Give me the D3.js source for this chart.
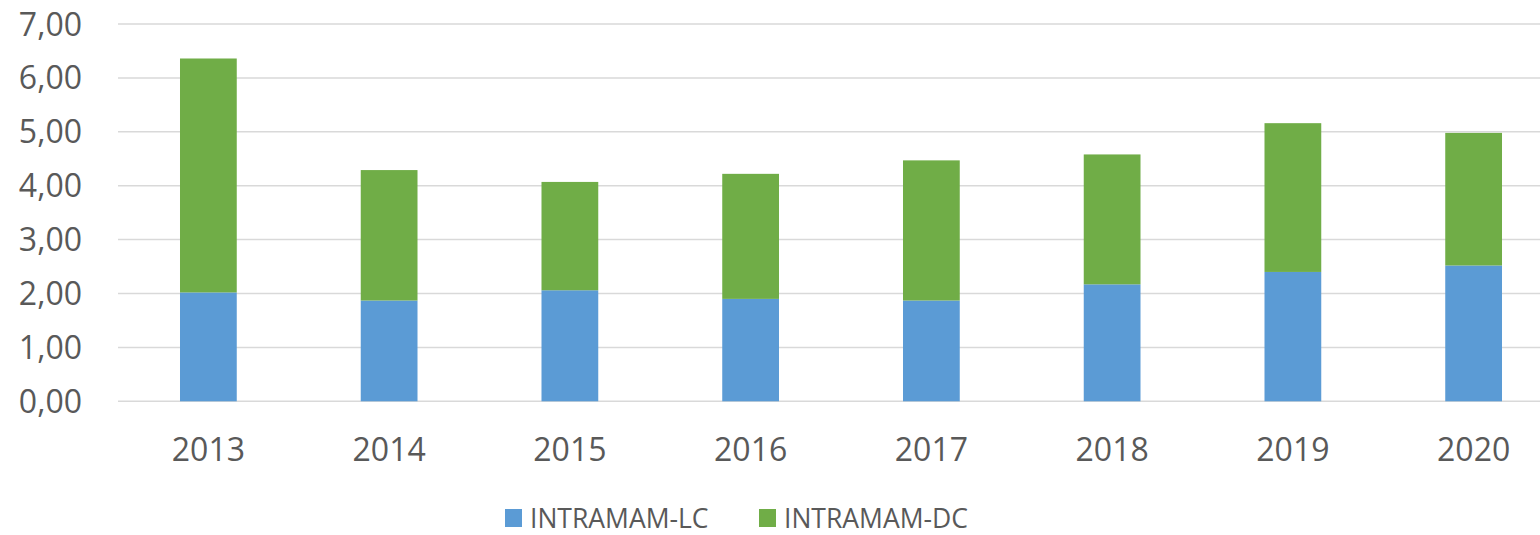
<!DOCTYPE html>
<html>
    <head>
        <meta charset="utf-8">
        <style>
            html, body {
                margin: 0px;
                padding: 0px;
                background-color: #fff;
                overflow: hidden;
            }

            svg text {
                font-family: "Open Sans", sans-serif;
                fill: #595959;
            }

            .grid line {
                stroke: #d9d9d9;
                stroke-width: 1.5;
            }
        </style>
        <script src="https://cdn.jsdelivr.net/npm/d3@7"></script>
    </head>
    <body>
        <div id="main"></div>

        <script>
            var years = ["2013", "2014", "2015", "2016", "2017", "2018", "2019", "2020"];
            var lcValues = [2.02, 1.87, 2.06, 1.90, 1.87, 2.17, 2.40, 2.52];
            var dcValues = [4.34, 2.42, 2.01, 2.32, 2.60, 2.41, 2.76, 2.46];
            var seriesNames = ["INTRAMAM-LC", "INTRAMAM-DC"];
            var seriesColors = ["#5b9bd5", "#70ad47"];
            var yTicks = [0, 1, 2, 3, 4, 5, 6, 7];

            var width = 1540;
            var height = 535;

            var svg = d3.select("#main")
                        .append("svg")
                        .attr("width", width)
                        .attr("height", height);

            var x = d3.scaleBand()
                        .domain(years)
                        .range([118, 1564])
                        .paddingInner(0.686)
                        .paddingOuter(0.343);

            var y = d3.scaleLinear()
                        .domain([0, 7])
                        .range([401.3, 24]);

            var fmt = function(d) { return d3.format(".2f")(d).replace(".", ","); };

            // gridlines
            svg.append("g")
                .attr("class", "grid")
                .selectAll("line")
                .data(yTicks)
                .enter()
                .append("line")
                .attr("x1", 118)
                .attr("x2", 1564)
                .attr("y1", function(d) { return y(d); })
                .attr("y2", function(d) { return y(d); });

            // y labels
            svg.append("g")
                .selectAll("text")
                .data(yTicks)
                .enter()
                .append("text")
                .attr("x", 82)
                .attr("y", function(d) { return y(d); })
                .attr("dy", "0.36em")
                .style("text-anchor", "end")
                .style("font-size", "32px")
                .text(fmt);

            var rows = years.map(function(yr, i) {
                return { year: yr, lc: lcValues[i], dc: dcValues[i] };
            });
            var stack = d3.stack().keys(["lc", "dc"])(rows);

            svg.selectAll("g.series")
                .data(stack)
                .enter()
                .append("g")
                .attr("class", "series")
                .attr("fill", function(d, i) { return seriesColors[i]; })
                .selectAll("rect")
                .data(function(d) { return d; })
                .enter()
                .append("rect")
                .attr("x", function(d) { return x(d.data.year); })
                .attr("width", x.bandwidth())
                .attr("y", function(d) { return y(d[1]); })
                .attr("height", function(d) { return y(d[0]) - y(d[1]); });

            // x labels
            svg.append("g")
                .selectAll("text")
                .data(years)
                .enter()
                .append("text")
                .attr("x", function(d) { return x(d) + x.bandwidth() / 2; })
                .attr("y", 461)
                .style("text-anchor", "middle")
                .style("font-size", "32px")
                .text(function(d) { return d; });

            // legend
            var legendX = [505, 759];
            var legend = svg.append("g")
                .selectAll("g")
                .data(seriesNames)
                .enter()
                .append("g")
                .attr("transform", function(d, i) { return "translate(" + legendX[i] + ",0)"; });

            legend.append("rect")
                .attr("y", 509)
                .attr("width", 17)
                .attr("height", 18)
                .attr("fill", function(d, i) { return seriesColors[i]; });

            legend.append("text")
                .attr("x", 25)
                .attr("y", 528)
                .style("font-size", "26.5px")
                .text(function(d) { return d; });
        </script>
    </body>
</html>
